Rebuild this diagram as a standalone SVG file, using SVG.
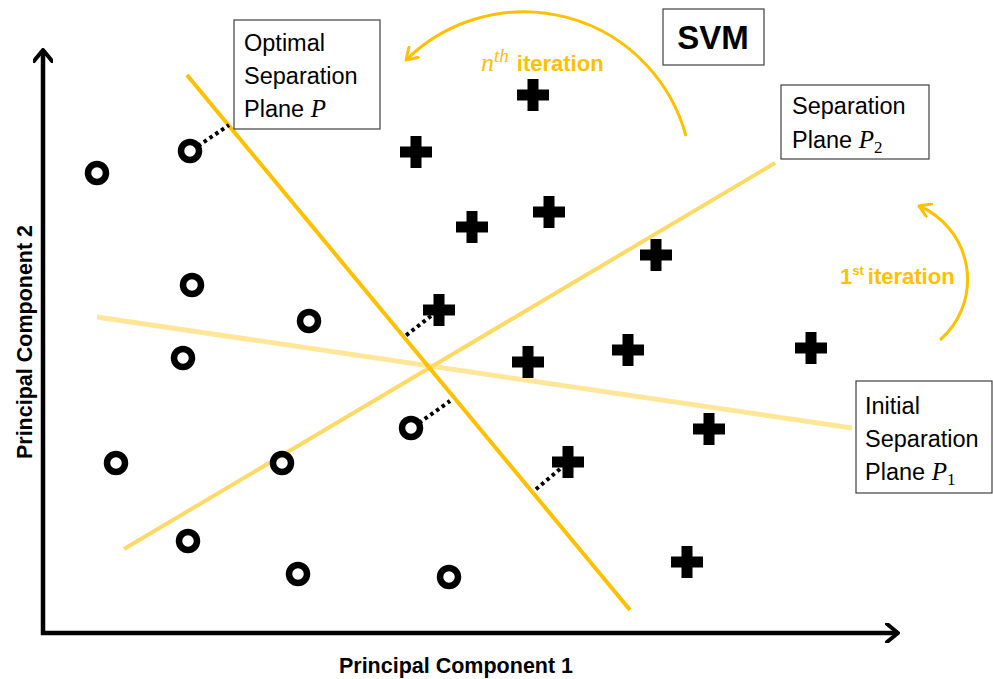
<svg xmlns="http://www.w3.org/2000/svg" width="993" height="679" viewBox="0 0 993 679">
<style>
.box{fill:#fff;stroke:#404040;stroke-width:1.2}
.lbl{font-family:"Liberation Sans",Arial,sans-serif;font-size:23.5px;fill:#000}
.math{font-family:"Liberation Serif","Times New Roman",serif;font-style:italic;font-size:25px}
.ax{font-family:"Liberation Sans",Arial,sans-serif;font-size:21.5px;font-weight:bold;fill:#000}
.it{font-family:"Liberation Sans",Arial,sans-serif;font-size:22px;font-weight:bold;fill:#FFC000}
.dot{stroke:#000;stroke-width:4;stroke-dasharray:3.5 3.5;fill:none}
.o{fill:none;stroke:#000;stroke-width:6.5}
</style>
<defs>
<path id="plus" d="M-5.5,-16H5.5V-5.5H16V5.5H5.5V16H-5.5V5.5H-16V-5.5H-5.5Z" fill="#000"/>
<marker id="ah" viewBox="-12 -8 14 16" markerWidth="14" markerHeight="16" markerUnits="userSpaceOnUse" refX="0" refY="0" orient="auto">
<path d="M-11,-7L0,0L-11,7" fill="none" stroke="#FFC000" stroke-width="3" stroke-linecap="round" stroke-linejoin="round"/>
</marker>
<marker id="axh" viewBox="-14 -10 16 20" markerWidth="16" markerHeight="20" markerUnits="userSpaceOnUse" refX="0" refY="0" orient="auto">
<path d="M-11,-9L0,0L-11,9" fill="none" stroke="#000" stroke-width="4" stroke-linecap="round" stroke-linejoin="round"/>
</marker>
</defs>
<rect width="993" height="679" fill="#fff"/>

<g id="axes">
<path d="M43,635V50" stroke="#000" stroke-width="4.5" fill="none" marker-end="url(#axh)"/>
<path d="M41,633H898" stroke="#000" stroke-width="4.5" fill="none" marker-end="url(#axh)"/>
<text class="ax" x="456" y="673" text-anchor="middle">Principal Component 1</text>
<text class="ax" transform="translate(32,342) rotate(-90)" text-anchor="middle">Principal Component 2</text>
</g>

<g id="connectors">
<line id="plane-p1" x1="97" y1="317" x2="852" y2="428" stroke="#FFE699" stroke-width="5"/>
<line id="plane-p2" x1="124" y1="549" x2="775" y2="163" stroke="#FFD966" stroke-width="4"/>
<line id="plane-p" x1="187" y1="75" x2="630" y2="610" stroke="#FFC000" stroke-width="4"/>
<line class="dot" x1="198" y1="146" x2="229" y2="125"/>
<line class="dot" x1="431" y1="316" x2="404" y2="337"/>
<line class="dot" x1="419" y1="423" x2="450" y2="401"/>
<line class="dot" x1="560" y1="469" x2="534" y2="491"/>
<path id="arc-nth" d="M686,136A168,168 0 0 0 406,60" fill="none" stroke="#FFC000" stroke-width="3" marker-end="url(#ah)"/>
<path id="arc-1st" d="M940,340A80,80 0 0 0 919,206" fill="none" stroke="#FFC000" stroke-width="3" marker-end="url(#ah)"/>
</g>

<g id="circles">
<circle class="o" cx="97" cy="173" r="9"/>
<circle class="o" cx="190" cy="151" r="9"/>
<circle class="o" cx="192" cy="285" r="9"/>
<circle class="o" cx="309" cy="321" r="9"/>
<circle class="o" cx="183" cy="358" r="9"/>
<circle class="o" cx="116" cy="463" r="9"/>
<circle class="o" cx="282" cy="463" r="9"/>
<circle class="o" cx="411" cy="428" r="9"/>
<circle class="o" cx="188" cy="541" r="9"/>
<circle class="o" cx="298" cy="574" r="9"/>
<circle class="o" cx="449" cy="577" r="9"/>
</g>

<g id="pluses">
<use href="#plus" x="533" y="95"/>
<use href="#plus" x="416" y="152"/>
<use href="#plus" x="549" y="212"/>
<use href="#plus" x="472" y="227"/>
<use href="#plus" x="656" y="255"/>
<use href="#plus" x="439" y="310"/>
<use href="#plus" x="528" y="362"/>
<use href="#plus" x="628" y="350"/>
<use href="#plus" x="811" y="348"/>
<use href="#plus" x="709" y="429"/>
<use href="#plus" x="568" y="462"/>
<use href="#plus" x="687" y="562"/>
</g>

<g id="node-optimal">
<rect class="box" x="234" y="20" width="146" height="109"/>
<text class="lbl" x="244" y="51">Optimal</text>
<text class="lbl" x="244" y="84">Separation</text>
<text class="lbl" x="244" y="117">Plane <tspan class="math">P</tspan></text>
</g>

<g id="node-svm">
<rect class="box" x="663" y="9" width="101" height="56"/>
<text x="713" y="49" text-anchor="middle" font-family="Liberation Sans,Arial,sans-serif" font-size="33" font-weight="bold">SVM</text>
</g>

<g id="node-p2">
<rect class="box" x="781" y="85" width="148" height="74"/>
<text class="lbl" x="792" y="114">Separation</text>
<text class="lbl" x="792" y="148">Plane <tspan class="math">P</tspan><tspan font-family="Liberation Serif,serif" font-size="17" dy="5">2</tspan></text>
</g>

<g id="node-p1">
<rect class="box" x="856" y="381" width="136" height="112"/>
<text class="lbl" x="865" y="414">Initial</text>
<text class="lbl" x="865" y="447">Separation</text>
<text class="lbl" x="865" y="480">Plane <tspan class="math">P</tspan><tspan font-family="Liberation Serif,serif" font-size="17" dy="5">1</tspan></text>
</g>

<g id="label-nth">
<text class="it" x="481" y="71"><tspan font-family="Liberation Serif,serif" font-style="italic" font-weight="normal" font-size="26">n</tspan><tspan font-family="Liberation Serif,serif" font-style="italic" font-weight="normal" font-size="19" dy="-9">th</tspan><tspan dy="9" dx="8">iteration</tspan></text>
</g>

<g id="label-1st">
<text class="it" x="840" y="284">1<tspan font-size="13" dy="-9">st</tspan><tspan dy="9" dx="4">iteration</tspan></text>
</g>
</svg>
